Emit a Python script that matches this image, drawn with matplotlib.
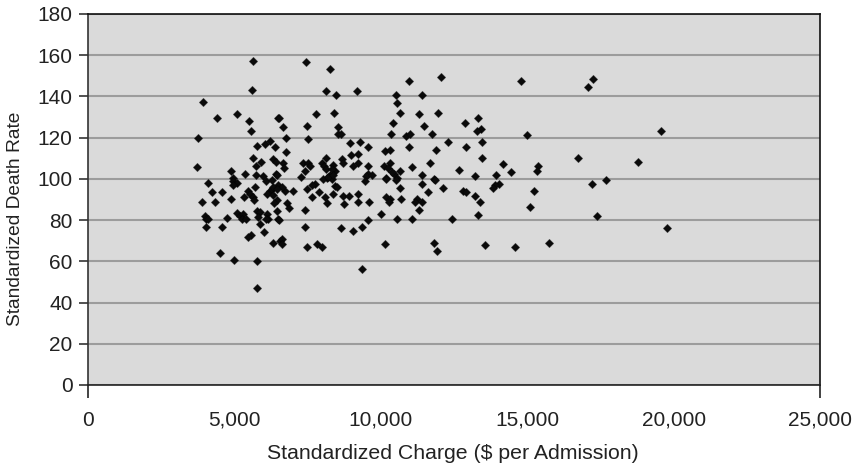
import matplotlib
matplotlib.use("Agg")
import matplotlib.pyplot as plt

plt.rcParams['font.family'] = ['Liberation Sans', 'DejaVu Sans']

x_title = "Standardized Charge ($ per Admission)"
y_title = "Standardized Death Rate"
x_ticks = [0, 5000, 10000, 15000, 20000, 25000]
y_ticks = list(range(0, 181, 20))

points = [
    (5620,157.3),(5590,143),(3938,137.4),(4394,129.3),(5100,131.4),(5487,128.1),(5566,123.3),(6489,129.3),
    (3756,120),(5760,116),(6056,116.8),(6215,118.4),(6375,115.5),(5623,110.3),(5908,108.2),(5726,106.2),
    (6306,109.5),(6409,108.2),(3722,106),(4873,104),(5361,102.2),(5726,101.7),(5976,101.4),(6420,102.2),
    (4962,100.5),(4109,98.1),(4235,93.4),(4576,93.4),(3893,88.9),(4326,88.8),(4883,90.2),(4962,98.9),
    (5077,97.9),(4940,97),(5703,96.2),(6068,99),(6273,99.5),(6444,102),(6489,97),(5453,94),(5532,92.9),
    (5327,91.3),(5623,91),(5669,89.7),(6215,94),(6102,92.5),(6273,95),(6444,89.8),(6352,88.4),(3996,82.2),
    (4019,80.3),(4109,80.3),(4030,76.7),(4565,76.8),(4747,80.8),(5077,83.5),(5191,82),(5305,82.8),(5248,80.6),
    (5396,80.3),(5783,84.4),(5874,83.9),(5817,81.4),(5874,78.3),(6102,82.8),(6158,80.3),(6079,80.6),(6444,84.4),
    (6489,80.3),(6011,74.1),(5555,73),(5475,71.7),(6306,68.9),(6557,69.7),(4508,64.2),(4974,60.8),(5771,60),
    (5760,46.9),
    (7445,156.5),(8276,153.3),(10962,147.3),(12055,149.2),(8116,142.7),(8481,140.6),(9164,142.7),(10518,140.8),
    (11406,140.6),(10553,136.6),(10655,132),(11304,131.4),(11941,132),(8412,132),(7798,131.4),(6511,129.4),
    (6648,125.4),(7467,125.9),(12874,127.3),(10416,127.3),(11474,125.9),(8549,125.4),(6750,120),(7501,119.4),
    (8526,121.8),(8640,121.8),(10347,121.8),(10860,121),(10973,122),(11725,121.8),(12282,118),(8959,117.3),
    (9300,118),(9573,115.3),(10962,115.3),(12897,115.3),(11884,114),(10131,113.5),(10313,114),(6750,113.2),
    (8992,111.4),(9232,111.9),(11679,107.9),(10313,107.9),(11064,106),(10632,104),(12669,104.1),(8674,109.5),
    (8697,107.5),(9198,107.5),(9061,106.3),(9573,106.3),(10108,106.3),(10222,105.4),(6648,107.9),(6705,105.4),
    (7353,107.9),(7524,107.5),(7581,106.3),(7411,103.8),(7980,107.5),(8116,110),(8070,106.3),(8378,106.6),
    (8116,104.7),(8435,103.8),(8264,101.7),(8321,104.7),(7263,101),(9573,102.2),(9493,101.4),(9687,101.9),
    (10176,100.2),(10450,102.2),(10370,103.4),(10542,100.6),(11406,101.9),(11816,100),(8150,100.6),
    (8036,99.8),(7752,97.3),(7638,97),(7490,95.2),(7661,91.3),(7900,93.6),(8094,91.3),(8150,88.4),(8378,92.5),
    (8435,96.5),(8492,96),(8321,99.8),(8207,100.7),(8378,102),(8719,91.6),(8913,91.6),(8742,88),(9198,92.5),
    (9232,88.7),(9596,88.9),(9460,98.9),(10165,99.8),(10518,99.3),(10655,95.4),(11406,97.3),(11827,99.3),
    (12112,95.4),(11611,93.6),(12795,94),(12909,93.6),(10176,91.3),(10313,90),(10268,88.9),(10689,90),
    (11225,90),(11396,88.9),(11167,88.9),(11304,84.8),(9983,82.9),(9573,80),(10553,80.6),(11064,80.6),
    (12419,80.6),(9368,76.7),(9061,74.8),(8651,76.1),(7399,76.7),(7399,84.8),(6523,80),(6785,88.4),(6864,86),
    (7012,94),(6728,94),(6614,96),(6625,71),(6625,68.6),(7467,66.8),(7809,68.3),(7980,66.8),(10153,68.3),
    (11805,69),(11918,64.9),(9368,56.3),(6330,96),(6450,95),(6300,92),
    (14763,147.3),(17246,148.6),(17075,144.5),(13308,129.3),(13410,124.1),(13273,123.3),(14981,121.2),
    (19557,123.3),(13455,117.9),(13444,110),(16733,110),(14149,107.4),(18772,108),(15344,106.2),(15310,103.8),
    (14422,103.3),(13922,102),(13193,101.4),(17678,99.4),(17212,97.5),(14012,97.5),(13899,96.9),(13808,95.7),
    (15208,94),(13205,91.5),(13387,88.7),(15071,86.6),(13308,82.7),(17382,82.1),(19762,76.1),(13547,68.1),
    (14571,66.8),(15719,69),
]
charge = [p[0] for p in points]
death_rate = [p[1] for p in points]

W, H = 857, 466
fig = plt.figure(figsize=(W / 100, H / 100), dpi=100, facecolor="white")
L, R, T, B = 88, 820.5, 14, 385
ax = fig.add_axes([L / W, 1 - B / H, (R - L) / W, (B - T) / H])
ax.set_facecolor("#dadada")
ax.set_xlim(0, 25000)
ax.set_ylim(0, 180)
ax.set_xticks(x_ticks, [f"{v:,}" for v in x_ticks])
ax.set_yticks(y_ticks)
ax.grid(axis="y", color="#9c9c9c", linewidth=1.5, zorder=1)
ax.set_axisbelow(True)
ax.spines["top"].set_color("#111111")
ax.spines["right"].set_color("#111111")
ax.spines["bottom"].set_color("#222222")
ax.spines["left"].set_color("#333333")
for s in ax.spines.values():
    s.set_linewidth(1.2)
TXT = "#222222"
ax.tick_params(axis="y", length=6.5, width=1.2, color="#333333", labelsize=15, pad=4.5, labelcolor=TXT)
ax.tick_params(axis="x", length=9.5, width=1.2, color="#222222", labelsize=15, pad=9, labelcolor=TXT)
# only the two ends of the x axis carry a tick mark
for i, t in enumerate(ax.xaxis.get_major_ticks()):
    if i not in (0, len(x_ticks) - 1):
        t.tick1line.set_visible(False)
ax.scatter(charge, death_rate, marker="D", s=17, color="#0a0a0a",
           edgecolors=(0, 0, 0, 0.45), linewidths=0.7, zorder=3, clip_on=False)
ax.set_xlabel(x_title, fontsize=15.3, color=TXT)
ax.set_ylabel(y_title, fontsize=13.8, color=TXT)
ax.xaxis.set_label_coords(0.4975, -0.16)
ax.yaxis.set_label_coords(-0.0874, 0.449)
fig.savefig("out.png", dpi=100)
